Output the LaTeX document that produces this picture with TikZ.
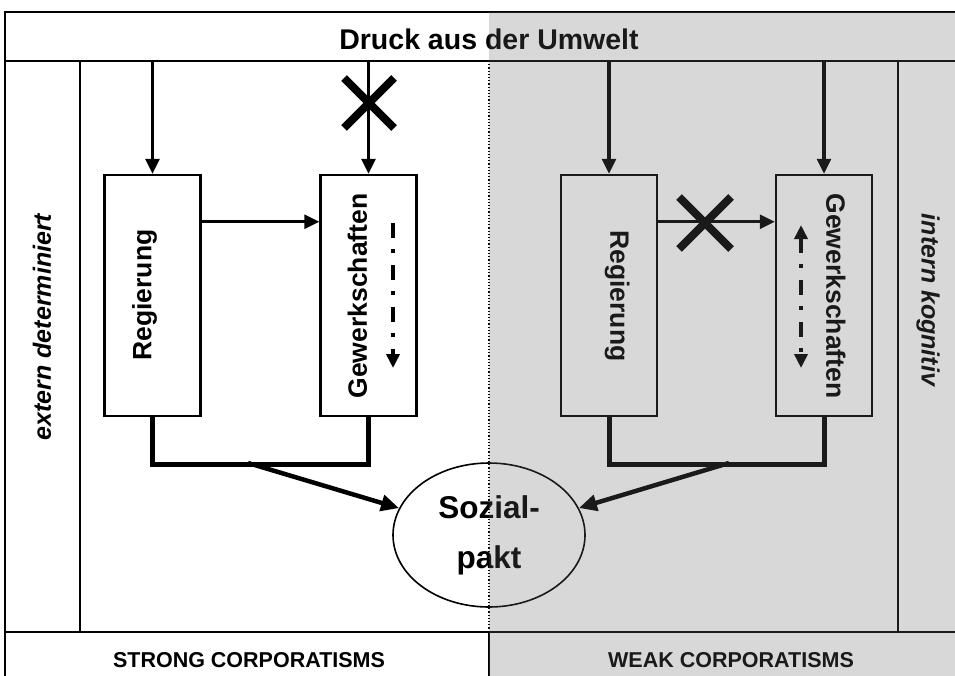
\documentclass[tikz,border=0pt]{standalone}
\usepackage{fontspec}
\setmainfont{Liberation Sans}
\usetikzlibrary{arrows.meta,shapes.geometric}
\begin{document}
\begin{tikzpicture}[x=1pt,y=-1pt,
  frame/.style={line width=2.5pt},
  box/.style={draw,line width=2.5pt,minimum width=96pt,minimum height=241pt,inner sep=0pt},
  lbl/.style={font=\bfseries\fontsize{26.5}{30}\selectfont,text height=19pt,text depth=5.5pt,inner sep=0pt},
  side/.style={font=\bfseries\itshape\fontsize{25}{30}\selectfont,inner sep=0pt},
  band/.style={font=\bfseries\fontsize{21.5}{24}\selectfont,inner sep=0pt},
  arr/.style={line width=3.2pt,-{Triangle[length=15pt,width=14pt]}},
  conn/.style={line width=5pt,line join=miter},
  bigarr/.style={line width=4.5pt,-{Triangle[length=18pt,width=16pt]}},
  xmark/.style={line width=8pt,line cap=butt},
  dashdot/.style={line width=4pt,dash pattern=on 15pt off 11pt on 4pt off 12pt},
]
\useasboundingbox (0,0) rectangle (955,675);
\clip (0,0) rectangle (955,675);
% shaded half
\fill[black!16.7] (489,12) rectangle (960,680);
% frame
\draw[frame] (960,12) -- (5,12) -- (5,680);
\coordinate (hb) at (0,61);
\draw[frame] (5,61) -- (960,61);
\draw[frame] (5,632) -- (960,632);
\draw[frame] (80,61) -- (80,632);
\draw[frame] (898,61) -- (898,632);
\draw[line width=1.2pt,dotted] (489,61) -- (489,632);
\draw[frame] (489,632) -- (489,680);
% texts of frame
\node[font=\bfseries\fontsize{28.5}{32}\selectfont,inner sep=0pt] (hdr) at (489,39) {Druck aus der Umwelt};
\node[band] (strong) at (249,660) {STRONG CORPORATISMS};
\node[band] (weak) at (731,660) {WEAK CORPORATISMS};
\node[side,rotate=90] (ext) at (42,327) {extern determiniert};
\node[side,rotate=-90] (int) at (928,300) {intern kognitiv};
% boxes
\node[box] (rl) at (152.5,295.5) {};
\node[box] (gl) at (368.5,295.5) {};
\node[box] (rr) at (609,295.5) {};
\node[box] (gr) at (824,295.5) {};
\node[lbl,rotate=90] (rlt) at (144.5,295) {Regierung};
\node[lbl,rotate=90] (glt) at (360,296) {Gewerkschaften};
\node[lbl,rotate=-90] (rrt) at (617,296) {Regierung};
\node[lbl,rotate=-90] (grt) at (833,296) {Gewerkschaften};
% top arrows
\draw[arr] (rl.north |- hb) -- (rl.north);
\draw[arr] (gl.north |- hb) -- (gl.north);
\draw[arr] (rr.north |- hb) -- (rr.north);
\draw[arr] (gr.north |- hb) -- (gr.north);
% horizontal arrows
\draw[arr] ([yshift=-48pt]rl.north east) -- ([yshift=-48pt]gl.north west);
\draw[arr] ([yshift=-48pt]rr.north east) -- ([yshift=-48pt]gr.north west);
% crosses
\coordinate (x1) at (369,103);
\coordinate (x2) at (705,223);
\draw[xmark] (x1) +(-25,-25) -- +(25,25) +(-25,25) -- +(25,-25);
\draw[xmark] (x2) +(-26,-26) -- +(26,26) +(-26,26) -- +(26,-26);
% dashed arrows inside unions
\coordinate (da) at (393,223);
\coordinate (db) at (393,368);
\coordinate (dc) at (801,225);
\coordinate (de) at (801,368);
\draw[dashdot,-{Triangle[length=14pt,width=13pt]}] (da) -- (db);
\draw[dashdot,{Triangle[length=14pt,width=13pt]}-{Triangle[length=14pt,width=13pt]}] (dc) -- (de);
% ellipse
\node[draw,ellipse,line width=1.6pt,minimum width=192pt,minimum height=144pt,inner sep=0pt,
  align=center,font=\bfseries\fontsize{31.5}{50}\selectfont] (ell) at (489,535) {Sozial-\\pakt};
% bottom connectors
\draw[conn] (rl.south) -- ++(0,47) -| (gl.south);
\draw[conn] (rr.south) -- ++(0,47) -| (gr.south);
\coordinate (ml) at (248,463);
\coordinate (mr) at (729,463);
\draw[bigarr] (ml) -- (ell);
\draw[bigarr] (mr) -- (ell);
% light veil over the shaded half (it greys the strokes there, as in the print)
\fill[white,opacity=0.1] (489,12) rectangle (960,680);
\end{tikzpicture}
\end{document}
